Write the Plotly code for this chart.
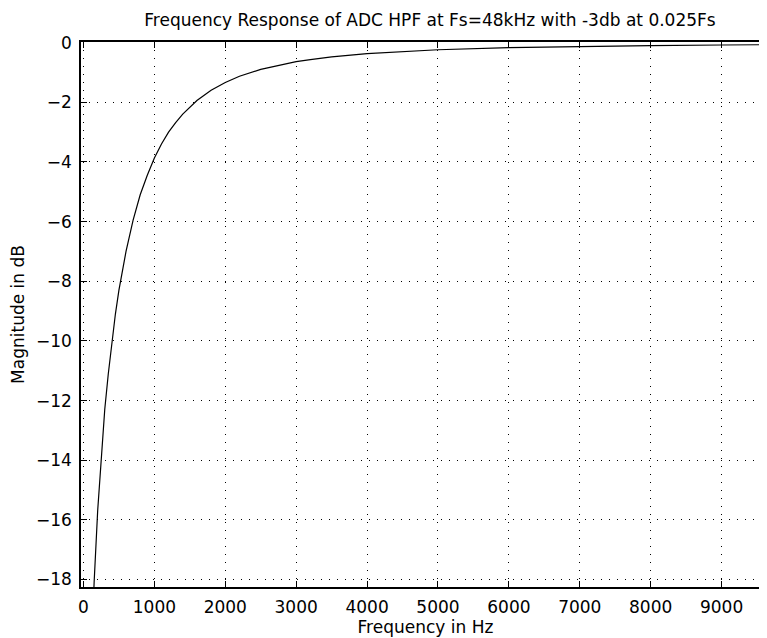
import plotly.graph_objects as go

# values
freq_hz = [130, 150, 200, 250, 300, 350, 400, 450, 500, 550, 600, 700, 800,
           900, 1000, 1100, 1200, 1300, 1400, 1600, 1800, 2000, 2200, 2500,
           2800, 3000, 3200, 3500, 4000, 4500, 5000, 6000, 7000, 8000, 9000,
           9700]
mag_db = [-19.4, -18.1, -15.7, -13.8, -12.3, -11.1, -10.0, -9.1, -8.3, -7.6,
          -7.0, -5.95, -5.1, -4.45, -3.87, -3.4, -3.0, -2.68, -2.4, -1.94,
          -1.6, -1.34, -1.13, -0.9, -0.73, -0.64, -0.57, -0.48, -0.37, -0.3,
          -0.24, -0.17, -0.13, -0.1, -0.08, -0.07]

x_ticks = [0, 1000, 2000, 3000, 4000, 5000, 6000, 7000, 8000, 9000]
y_ticks = [0, -2, -4, -6, -8, -10, -12, -14, -16, -18]

font = dict(family="DejaVu Sans, sans-serif", size=17, color="black")

W, H = 762, 630  # page body adds an 8px margin

fig = go.Figure()
fig.add_trace(go.Scatter(x=freq_hz, y=mag_db, mode="lines",
                         line=dict(color="black", width=1.2), showlegend=False))

axis_common = dict(
    showline=True, linecolor="black", linewidth=1.5, mirror="allticks",
    ticks="inside", ticklen=6, tickcolor="black", tickwidth=1,
    showgrid=True, gridcolor="black", griddash="1px,7px", gridwidth=1,
    zeroline=False, tickfont=font, automargin=False,
)

fig.update_xaxes(range=[-35, 9683], tickvals=x_ticks, ticklabelstandoff=4,
                 title=dict(text="Frequency in Hz", font=font, standoff=3),
                 **axis_common)
fig.update_yaxes(range=[-18.25, 0.02], tickvals=y_ticks, ticklabelstandoff=4,
                 title=dict(text="Magnitude in dB", font=font, standoff=7),
                 **axis_common)

fig.update_layout(
    width=W, height=H,
    margin=dict(l=73, r=0, t=34, b=51),
    paper_bgcolor="white", plot_bgcolor="white",
    font=font,
    title=dict(text="Frequency Response of ADC HPF at Fs=48kHz with -3db at 0.025Fs",
               x=422 / W, xanchor="center", xref="container",
               y=1 - 12 / H, yanchor="middle", yref="container", font=font),
)

fig.write_html("out.html")
